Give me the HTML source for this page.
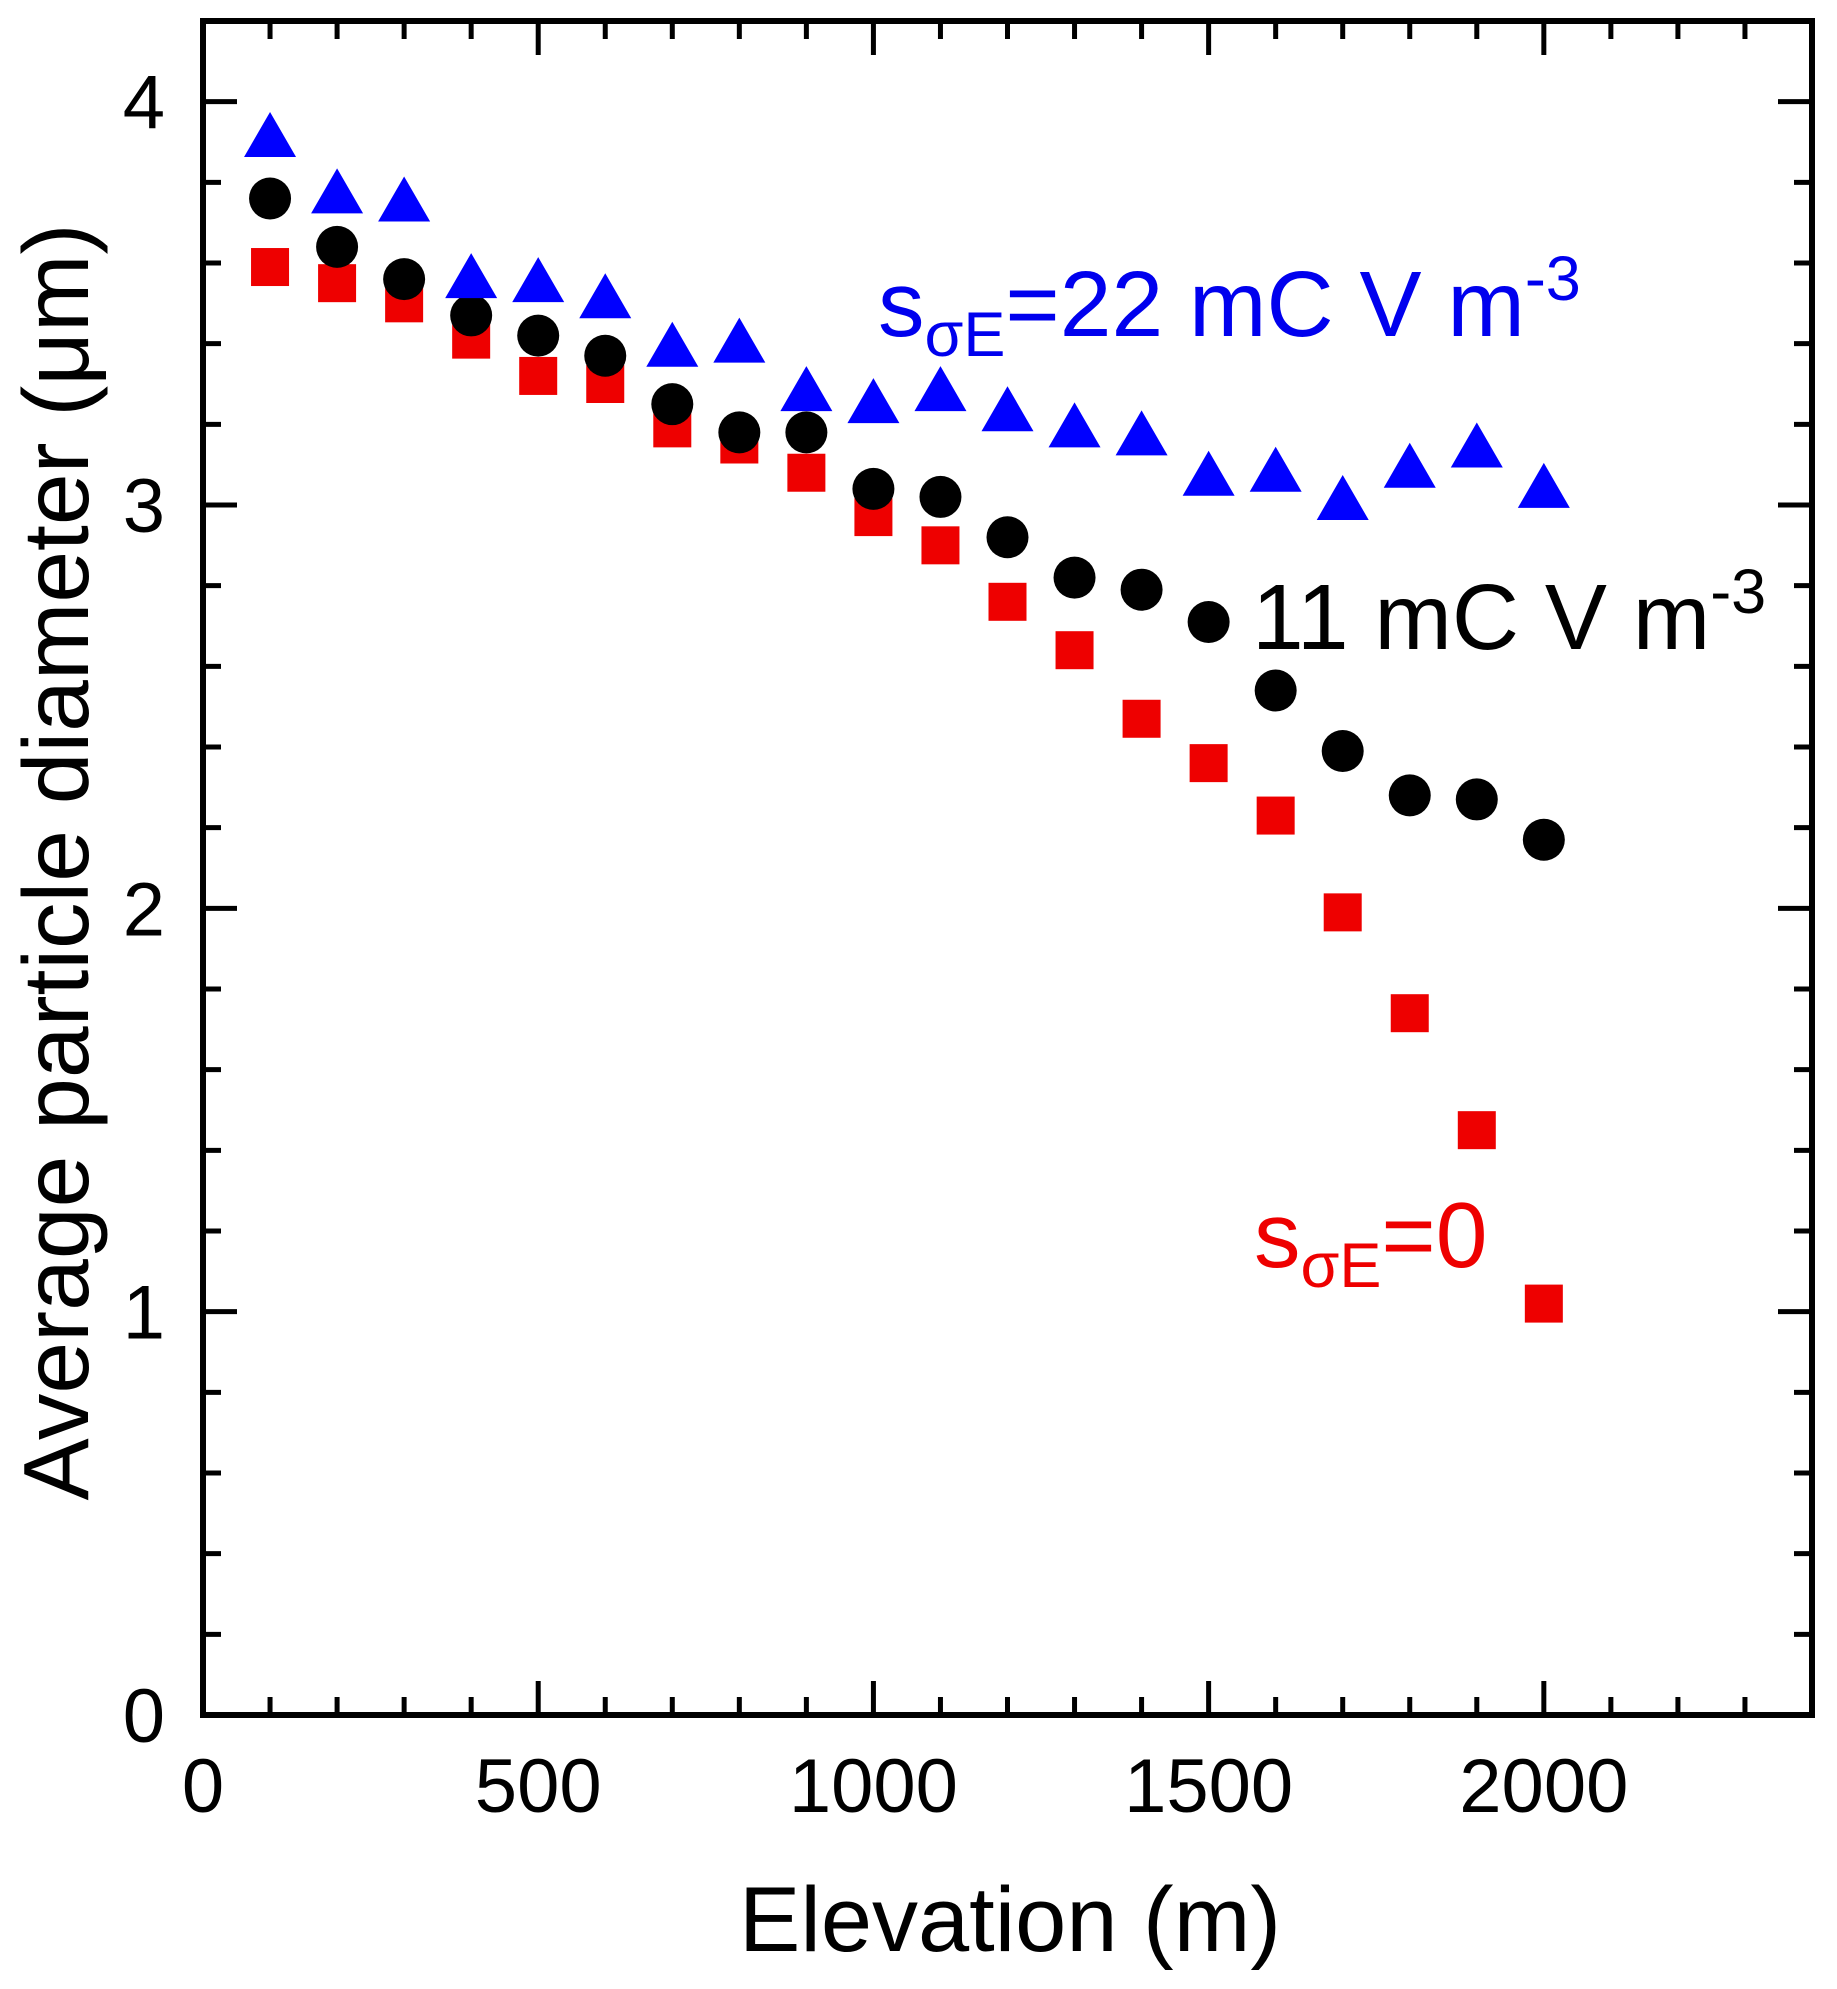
<!DOCTYPE html>
<html><head><meta charset="utf-8"><style>
body{margin:0;background:#fff}
svg{display:block;font-family:"Liberation Sans",Arial,sans-serif}
</style></head><body>
<svg id="chart" width="1837" height="1989" viewBox="0 0 1837 1989" xmlns="http://www.w3.org/2000/svg">
<g id="axes"></g><g id="marks"></g>
<text x="1010" y="1951" font-size="92" text-anchor="middle">Elevation (m)</text>
<text transform="translate(88,862) rotate(-90)" font-size="93" text-anchor="middle">Average particle diameter (μm)</text>
<text x="878" y="336" font-size="93" fill="#0000ee">s<tspan font-size="63" dy="20">σE</tspan><tspan dy="-20">=22 mC V m</tspan><tspan font-size="63" dy="-36">-3</tspan></text>
<text x="1252" y="649" font-size="93" fill="#000">11 mC V m<tspan font-size="63" dy="-36">-3</tspan></text>
<text x="1254" y="1267" font-size="93" fill="#ee0000">s<tspan font-size="63" dy="20">σE</tspan><tspan dy="-20">=0</tspan></text>
</svg>
<script>
const elevations=[100,200,300,400,500,600,700,800,900,1000,1100,1200,1300,1400,1500,1600,1700,1800,1900,2000];
const series22=[3.91,3.77,3.75,3.56,3.55,3.51,3.39,3.40,3.28,3.25,3.28,3.23,3.19,3.17,3.07,3.08,3.01,3.09,3.14,3.04];
const series11=[3.76,3.64,3.56,3.47,3.42,3.37,3.25,3.18,3.18,3.04,3.02,2.92,2.82,2.79,2.71,2.54,2.39,2.28,2.27,2.17];
const series0=[3.59,3.55,3.50,3.41,3.32,3.30,3.19,3.15,3.08,2.97,2.90,2.76,2.64,2.47,2.36,2.23,1.99,1.74,1.45,1.02];
const xTicks=[0,500,1000,1500,2000];
const yTicks=[0,1,2,3,4];
const NS="http://www.w3.org/2000/svg";
const L=203,R=1812,T=21,B=1715,XMAX=2400,YMAX=4.2;
function sx(v){return L+(v/XMAX)*(R-L);}
function sy(v){return B-(v/YMAX)*(B-T);}
function mk(tag,attrs,parent){const e=document.createElementNS(NS,tag);for(const k in attrs)e.setAttribute(k,attrs[k]);parent.appendChild(e);return e;}
const ax=document.getElementById('axes');
let fr=mk('rect',{x:L,y:T,width:R-L,height:B-T,fill:'none',stroke:'#000','stroke-width':6},ax);


for(let v=0;v<=XMAX;v+=100){
  const major=v%500===0,len=major?34:18,x=sx(v);
  mk('line',{x1:x,x2:x,y1:B,y2:B-len,stroke:'#000','stroke-width':5},ax);
  mk('line',{x1:x,x2:x,y1:T,y2:T+len,stroke:'#000','stroke-width':5},ax);
}
for(let i=0;i<=21;i++){
  const v=i*0.2,major=i%5===0,len=major?34:18,y=sy(v);
  mk('line',{x1:L,x2:L+len,y1:y,y2:y,stroke:'#000','stroke-width':5},ax);
  mk('line',{x1:R,x2:R-len,y1:y,y2:y,stroke:'#000','stroke-width':5},ax);
}
xTicks.forEach(v=>{const t=mk('text',{x:sx(v),y:1812,'font-size':76,'text-anchor':'middle'},ax);t.textContent=v;

});
yTicks.forEach(v=>{const t=mk('text',{x:165,y:sy(v)+27,'font-size':76,'text-anchor':'end'},ax);t.textContent=v;

});
const g=document.getElementById('marks');
elevations.forEach((e,i)=>{
  const x=sx(e);
  let y=sy(series0[i]);
  const s=mk('rect',{x:x-19,y:y-19,width:38,height:38,fill:'#ee0000'},g);
  
  
  y=sy(series11[i]);
  const c=mk('circle',{cx:x,cy:y,r:21,fill:'#000'},g);
  
  
  y=sy(series22[i]);
  const p=mk('polygon',{points:`${x},${y-26} ${x-26},${y+19} ${x+26},${y+19}`,fill:'#0000ff'},g);
  
  
});
</script>
</body></html>
